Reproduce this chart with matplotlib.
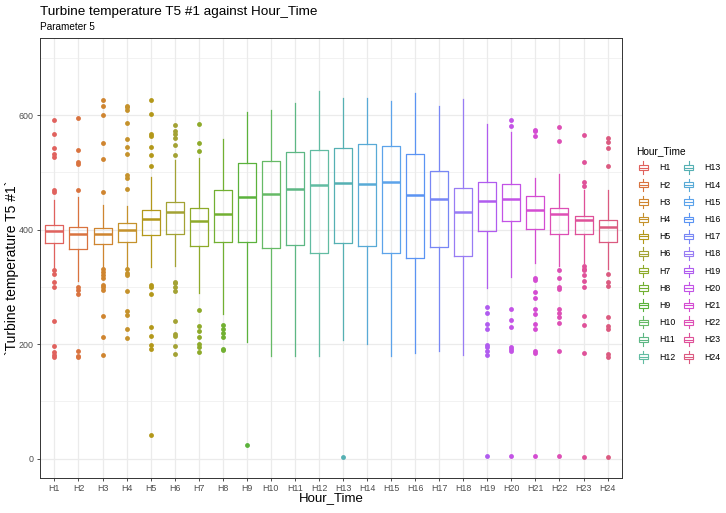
import numpy as np
import matplotlib
matplotlib.use("Agg")
import matplotlib.pyplot as plt
from matplotlib.patches import Rectangle
from matplotlib.lines import Line2D
from matplotlib.legend_handler import HandlerBase

plt.rcParams['font.family'] = ['Liberation Sans', 'DejaVu Sans']

hours = ['H%d' % i for i in range(1, 25)]

q1 = [376, 366, 375, 379, 391, 393, 372, 378, 378, 368, 373, 360,
      376, 371, 359, 351, 369, 354, 397, 416, 402, 393, 392, 379]
med = [398, 392, 392, 400, 418, 431, 416, 428, 457, 462, 471, 478,
       482, 480, 484, 460, 454, 431, 450, 453, 435, 427, 417, 405]
q3 = [408, 404, 403, 411, 434, 448, 438, 470, 516, 520, 536, 540,
      543, 550, 547, 533, 503, 473, 483, 479, 458, 438, 424, 417]
whislo = [332, 311, 335, 334, 335, 337, 290, 252, 203, 179, 179, 179,
          207, 201, 179, 185, 188, 181, 298, 318, 341, 337, 341, 331]
whishi = [452, 457, 443, 442, 492, 521, 526, 559, 606, 610, 621, 643,
          631, 631, 625, 639, 617, 628, 584, 570, 491, 498, 469, 469]

outliers = [
    [591, 568, 542, 532, 527, 469, 465, 329, 323, 309, 300, 241, 197, 186, 181, 177],
    [596, 540, 519, 515, 469, 300, 295, 288, 188, 179, 178],
    [626, 616, 600, 551, 523, 466, 332, 326, 321, 315, 303, 299, 295, 249, 212, 181],
    [617, 614, 610, 586, 559, 544, 532, 495, 491, 471, 332, 325, 321, 293, 258, 251, 227, 210],
    [627, 603, 568, 564, 545, 530, 512, 304, 300, 287, 230, 214, 198, 191, 41],
    [583, 572, 568, 561, 548, 531, 309, 306, 300, 293, 241, 217, 214, 196, 182],
    [584, 552, 538, 259, 232, 223, 213, 200, 195, 186],
    [233, 227, 219, 213, 192, 189],
    [24],
    [], [], [],
    [3],
    [], [], [], [], [],
    [264, 255, 235, 226, 199, 195, 188, 181, 5],
    [592, 582, 261, 242, 230, 195, 192, 188, 5],
    [575, 572, 564, 315, 312, 291, 281, 261, 253, 235, 226, 188, 185, 5],
    [579, 555, 329, 315, 300, 297, 262, 255, 248, 237, 188, 4],
    [566, 519, 483, 476, 337, 332, 329, 321, 311, 299, 249, 234, 184, 3],
    [561, 553, 543, 511, 322, 309, 301, 247, 231, 227, 182, 177, 3],
]

colours = ['#E0625E', '#D9733F', '#CF8530', '#C5922C', '#B3981A', '#A3A234',
           '#8EAA2A', '#72B032', '#5BB23C', '#66BA66', '#5DB784', '#62BCA2',
           '#55B0B3', '#58AAD6', '#5CA3EA', '#5B94F3', '#7887F5', '#987CF4',
           '#B05CEF', '#C353E6', '#D44CD2', '#DD4FB5', '#DF5199', '#DB5A80']


class BoxKey(HandlerBase):
    def create_artists(self, legend, orig_handle, xdescent, ydescent,
                       width, height, fontsize, trans):
        c = orig_handle.get_color()
        cx = width / 2 - xdescent
        y0 = -ydescent
        bw = width * 0.66
        lw = 0.8
        rect = Rectangle((cx - bw / 2, y0 + height * 0.27), bw, height * 0.46,
                         fill=False, ec=c, lw=lw, transform=trans)
        m = Line2D([cx - bw / 2, cx + bw / 2], [y0 + height * 0.5] * 2,
                   color=c, lw=lw, transform=trans)
        w1 = Line2D([cx, cx], [y0 - height * 0.05, y0 + height * 0.27],
                    color=c, lw=lw, transform=trans)
        w2 = Line2D([cx, cx], [y0 + height * 0.73, y0 + height * 1.05],
                    color=c, lw=lw, transform=trans)
        return [rect, m, w1, w2]


fig = plt.figure(figsize=(7.26, 5.13), dpi=100)
fig.subplots_adjust(left=40/726, right=622/726, top=1-38/513, bottom=1-478/513)
ax = fig.add_subplot(111)

for i in range(24):
    c = colours[i]
    stats = [dict(med=med[i], q1=q1[i], q3=q3[i], whislo=whislo[i],
                  whishi=whishi[i], fliers=outliers[i], label=hours[i])]
    ax.bxp(stats, positions=[i + 1], widths=0.75, showcaps=False,
           manage_ticks=False,
           boxprops=dict(color=c, lw=0.9),
           whiskerprops=dict(color=c, lw=0.9),
           medianprops=dict(color=c, lw=1.8, solid_capstyle='butt'),
           flierprops=dict(marker='o', markerfacecolor=c,
                           markeredgecolor='none', markersize=3.5))

ax.set_xlim(0.4, 24.6)
ax.set_ylim(-34, 735)
ax.set_xticks(range(1, 25))
ax.set_xticklabels(hours)
ax.set_yticks([0, 200, 400, 600])
ax.set_yticks([100, 300, 500, 700], minor=True)
ax.tick_params(axis='both', which='major', labelsize=6.4, labelcolor='#4D4D4D',
               color='#333333', length=2.5, width=0.6, pad=2)
ax.tick_params(axis='y', which='minor', length=0)
ax.grid(True, which='major', color='#EBEBEB', lw=0.9)
ax.grid(True, which='minor', axis='y', color='#EBEBEB', lw=0.45)
ax.set_axisbelow(True)
for sp in ax.spines.values():
    sp.set_color('#333333')
    sp.set_linewidth(0.7)

fig.text(40/726, 1-15/513, 'Turbine temperature T5 #1 against Hour_Time',
         fontsize=9.7, va='baseline', ha='left')
fig.text(40/726, 1-30/513, 'Parameter 5', fontsize=7.2, va='baseline', ha='left')
fig.text(12.5/726, 1-268/513, '`Turbine temperature T5 #1`', rotation=90,
         fontsize=10, va='center', ha='center')
fig.text(331/726, 1-498/513, 'Hour_Time', fontsize=9.5, va='center', ha='center')

handles = [Line2D([], [], color=colours[i]) for i in range(24)]
leg = fig.legend(handles, hours, ncol=2, loc='upper left',
                 bbox_to_anchor=(636/726, 1-146/513), frameon=False,
                 title='Hour_Time', fontsize=6.3, title_fontsize=7.3,
                 handler_map={Line2D: BoxKey()}, handlelength=1.7,
                 handleheight=1.6, labelspacing=0.68, handletextpad=0.9,
                 columnspacing=0.7, borderpad=0, borderaxespad=0)
leg._legend_box.align = 'left'

fig.savefig('out.png', dpi=100)
